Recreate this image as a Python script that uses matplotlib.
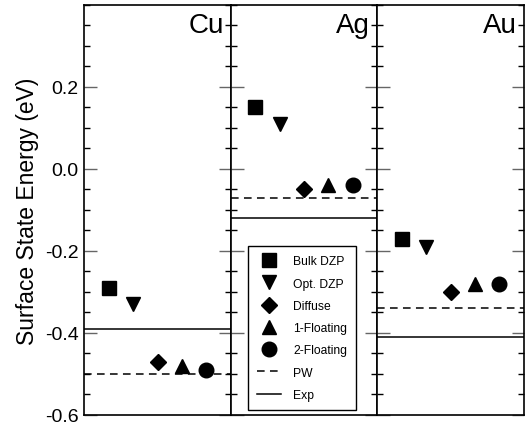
import numpy as np
import matplotlib.pyplot as plt
from matplotlib.ticker import MultipleLocator, FixedLocator

plt.rcParams['font.family'] = ['Liberation Sans', 'DejaVu Sans']

metals = ['Cu', 'Ag', 'Au']
methods = ['Bulk DZP', 'Opt. DZP', 'Diffuse', '1-Floating', '2-Floating']
markers = ['s', 'v', 'D', '^', 'o']
sizes = [9.5, 10, 8, 10, 10.5]

# surface state energies (eV), per metal, per method
energies = {
    'Cu': [-0.29, -0.33, -0.47, -0.48, -0.49],
    'Ag': [0.15, 0.11, -0.05, -0.04, -0.04],
    'Au': [-0.17, -0.19, -0.30, -0.28, -0.28],
}
pw = {'Cu': -0.50, 'Ag': -0.07, 'Au': -0.34}
exp = {'Cu': -0.39, 'Ag': -0.12, 'Au': -0.41}
ticks = [-0.6, -0.4, -0.2, 0.0, 0.2]

fig, axes = plt.subplots(1, 3, sharey=True, figsize=(5.27, 4.27), dpi=100)
fig.subplots_adjust(left=0.160, right=0.994, top=0.986, bottom=0.026, wspace=0)

xpos = np.arange(1, len(methods) + 1)
for ax, m in zip(axes, metals):
    for x, y, mk, s, lab in zip(xpos, energies[m], markers, sizes, methods):
        ax.plot(x, y, marker=mk, ms=s, color='k', ls='none', label=lab)
    ax.axhline(pw[m], color='k', ls=(0, (5, 3.5)), lw=1.1, label='PW')
    ax.axhline(exp[m], color='k', ls='-', lw=1.1, label='Exp')
    ax.set_xlim(0, 6)
    ax.set_ylim(-0.6, 0.4)
    ax.set_xticks([])
    ax.yaxis.set_major_locator(FixedLocator(ticks))
    ax.yaxis.set_minor_locator(MultipleLocator(0.05))
    ax.tick_params(axis='y', which='major', direction='in', length=9, width=1,
                   left=True, right=True, labelsize=14, color='#666666', pad=4)
    ax.tick_params(axis='y', which='minor', direction='in', length=4.5, width=1,
                   left=True, right=True)
    for sp in ax.spines.values():
        sp.set_linewidth(1.2)
    ax.text(0.95, 0.983, m, transform=ax.transAxes, ha='right', va='top', fontsize=20)

axes[0].yaxis.set_major_formatter(plt.FuncFormatter(lambda v, p: '%.1f' % v))
axes[0].set_ylabel('Surface State Energy (eV)', fontsize=16.5, labelpad=4)
for ax in axes[1:]:
    ax.tick_params(axis='y', which='both', labelleft=False)

leg = axes[1].legend(loc='lower left', bbox_to_anchor=(0.116, 0.012), borderaxespad=0,
                     fontsize=8.7, fancybox=False, edgecolor='k', framealpha=1,
                     labelspacing=0.85, handlelength=2.0, handletextpad=1.0,
                     borderpad=0.75, numpoints=1)
leg.get_frame().set_linewidth(1.0)

plt.savefig('out.png', dpi=100)
